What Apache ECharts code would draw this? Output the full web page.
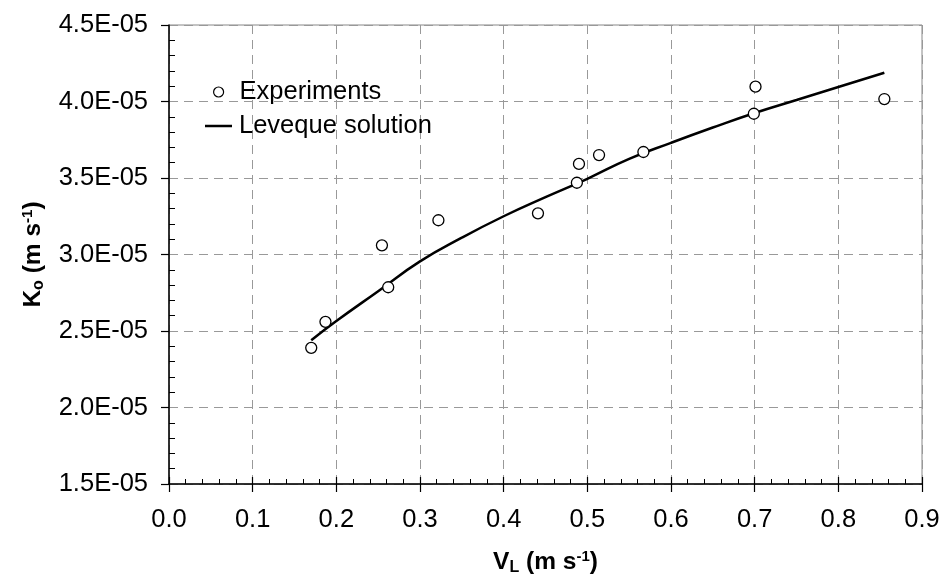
<!DOCTYPE html>
<html><head><meta charset="utf-8">
<script src="https://cdn.jsdelivr.net/npm/echarts@6/dist/echarts.min.js"></script>
<style>html,body{margin:0;padding:0;background:#fff}#c{width:942px;height:577px}</style>
</head><body><div id="c"></div>
<script>
// Experimental points
const expX = [0.170, 0.187, 0.262, 0.2545, 0.322, 0.441, 0.4875, 0.490, 0.514, 0.567, 0.699, 0.701, 0.855];
const expY = [2.39e-5, 2.56e-5, 2.786e-5, 3.06e-5, 3.224e-5, 3.269e-5, 3.469e-5, 3.592e-5, 3.65e-5, 3.67e-5, 3.92e-5, 4.097e-5, 4.016e-5];
// Leveque solution curve
const levX = [0.170, 0.20, 0.25, 0.30, 0.35, 0.40, 0.45, 0.50, 0.55, 0.60, 0.65, 0.70, 0.75, 0.80, 0.855];
const levY = [2.44e-5, 2.565e-5, 2.76e-5, 2.955e-5, 3.11e-5, 3.25e-5, 3.375e-5, 3.495e-5, 3.625e-5, 3.73e-5, 3.83e-5, 3.925e-5, 4.01e-5, 4.095e-5, 4.188e-5];

const FONT = '"Liberation Sans", Arial, sans-serif';
function fmtExp(v){
  const s = v.toExponential(1); const p = s.split('e'); const n = parseInt(p[1],10);
  return p[0] + 'E' + (n < 0 ? '-' : '+') + String(Math.abs(n)).padStart(2,'0');
}
const chart = echarts.init(document.getElementById('c'));
const titleRich = {
  b: {fontFamily: FONT, fontWeight: 'bold', fontSize: 24.5, color: '#000'},
  sub: {fontFamily: FONT, fontWeight: 'bold', fontSize: 16, color: '#000', padding: [10,0,0,0]},
  sup: {fontFamily: FONT, fontWeight: 'bold', fontSize: 15, color: '#000', padding: [0,0,12,0]}
};
chart.setOption({
  animation: false,
  backgroundColor: '#fff',
  grid: {left: 169, right: 20, top: 25, bottom: 93, containLabel: false, outerBoundsMode: 'none',
         show: true, borderColor: '#888', borderWidth: 1},
  legend: [
    {data: ['Experiments'], left: 213, top: 79, padding: 0, icon: 'circle', itemWidth: 10, itemHeight: 10,
     textStyle: {fontFamily: FONT, fontSize: 25.5, color: '#000', padding: [0,0,0,11]},
     itemStyle: {color: '#fff', borderColor: '#000', borderWidth: 1.2}},
    {data: ['Leveque solution'], left: 205, top: 113, padding: 0, icon: 'rect', itemWidth: 27, itemHeight: 2.5,
     textStyle: {fontFamily: FONT, fontSize: 25.5, color: '#000', padding: [0,0,0,2]},
     itemStyle: {color: '#000', borderWidth: 0}}
  ],
  xAxis: [
    {type: 'value', min: 0, max: 0.9, interval: 0.1, position: 'bottom',
     name: '{b|V}{sub|L}{b| (m s}{sup|-1}{b|)}', nameLocation: 'middle', nameGap: 65,
     nameTextStyle: {rich: titleRich},
     axisLine: {show: true, lineStyle: {color: '#000', width: 1.5}},
     axisTick: {show: true, inside: false, length: 8, lineStyle: {color: '#000', width: 1.2}},
     axisLabel: {fontFamily: FONT, fontSize: 25.5, color: '#000', margin: 23, formatter: v => v.toFixed(1)},
     splitLine: {show: true, lineStyle: {color: '#999', type: [9,6], width: 1}}},
    {type: 'value', min: 0, max: 0.9, interval: 0.1, position: 'bottom',
     axisLine: {show: false}, axisLabel: {show: false}, splitLine: {show: false},
     axisTick: {show: true, inside: true, length: 7, lineStyle: {color: '#000', width: 1.2}},
     minorTick: {show: true, splitNumber: 5, length: 5, lineStyle: {color: '#000', width: 1}}}
  ],
  yAxis: [
    {type: 'value', min: 1.5e-5, max: 4.5e-5, interval: 0.5e-5, position: 'left',
     name: '{b|K}{sub|o}{b| (m s}{sup|-1}{b|)}', nameLocation: 'middle', nameGap: 122, nameRotate: 90,
     nameTextStyle: {rich: titleRich},
     axisLine: {show: true, lineStyle: {color: '#000', width: 1.5}},
     axisTick: {show: true, inside: false, length: 8, lineStyle: {color: '#000', width: 1.2}},
     axisLabel: {fontFamily: FONT, fontSize: 25.5, color: '#000', margin: 21, formatter: fmtExp},
     splitLine: {show: true, lineStyle: {color: '#999', type: [9,6], width: 1}}},
    {type: 'value', min: 1.5e-5, max: 4.5e-5, interval: 0.5e-5, position: 'left',
     axisLine: {show: false}, axisLabel: {show: false}, splitLine: {show: false},
     axisTick: {show: true, inside: true, length: 0},
     minorTick: {show: true, splitNumber: 5, length: 6, lineStyle: {color: '#000', width: 1}}}
  ],
  series: [
    {name: 'Leveque solution', type: 'line', smooth: true, symbol: 'none', z: 2,
     data: levX.map((x, i) => [x, levY[i]]),
     lineStyle: {color: '#000', width: 2.5}, itemStyle: {color: '#000'}},
    {name: 'Experiments', type: 'scatter', symbol: 'circle', symbolSize: 11, z: 3,
     data: expX.map((x, i) => [x, expY[i]]),
     itemStyle: {color: '#fff', borderColor: '#000', borderWidth: 1.3, opacity: 1}}
  ]
});
</script></body></html>
